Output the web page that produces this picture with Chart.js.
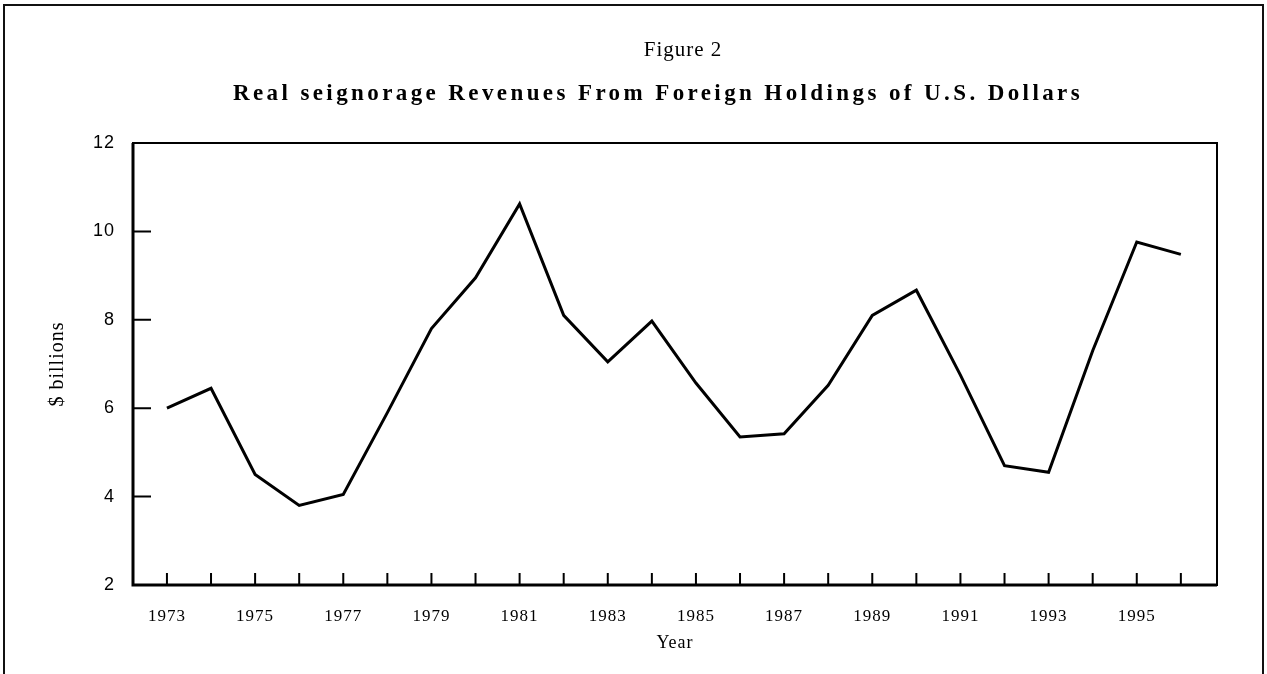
<!DOCTYPE html>
<html lang="en">
<head>
  <meta charset="UTF-8" />
  <title>Figure 2 | Real seignorage Revenues</title>
  <script src="https://cdn.jsdelivr.net/npm/chart.js"></script>
  <style>
    body { margin: 0; background: #fff; }
    .page { position: relative; width: 1267px; height: 674px; overflow: hidden; background: #fff; }
    .frame { position: absolute; left: 3px; top: 4px; width: 1257px; height: 720px; border: 2px solid #111; }
    #chart { position: absolute; left: 0; top: 0; }
    .fig-no, .fig-title { position: absolute; transform: translateX(-50%); white-space: nowrap; line-height: 1; color: #000; font-family: "Liberation Serif", "Times New Roman", serif; }
    .fig-no { left: 683px; top: 39px; font-size: 21px; letter-spacing: 1px; }
    .fig-title { left: 658px; top: 81px; font-size: 23px; font-weight: bold; letter-spacing: 3.4px; }
  </style>
</head>
<body>
<div class="page">
  <div class="frame"></div>
  <canvas id="chart" width="1267" height="674"></canvas>
  <div class="fig-no">Figure 2</div>
  <div class="fig-title">Real seignorage Revenues From Foreign Holdings of U.S. Dollars</div>
</div>

<script>
// Values ($ billions)
const years = [1973, 1974, 1975, 1976, 1977, 1978, 1979, 1980, 1981, 1982, 1983, 1984,
               1985, 1986, 1987, 1988, 1989, 1990, 1991, 1992, 1993, 1994, 1995, 1996];
const seignorage = [6.0, 6.45, 4.5, 3.8, 4.05, 5.9, 7.8, 8.95, 10.62, 8.1, 7.05, 7.97,
                    6.57, 5.35, 5.42, 6.52, 8.1, 8.67, 6.75, 4.7, 4.55, 7.3, 9.76, 9.48];
const yTicks = [2, 4, 6, 8, 10, 12];

// Box round the plot plus inward tick marks
const frameTicks = {
  id: 'frameTicks',
  beforeDraw(chart) {
    // the scanned figure sets its text a little loose
    chart.ctx.letterSpacing = '1px';
  },
  beforeDatasetsDraw(chart) {
    const { ctx, chartArea: a, scales: { x, y } } = chart;
    ctx.save();
    ctx.strokeStyle = '#000';
    ctx.lineWidth = 2;
    ctx.strokeRect(a.left, a.top, a.right - a.left, a.bottom - a.top);
    ctx.lineWidth = 3;
    ctx.beginPath();
    ctx.moveTo(a.left, a.top);
    ctx.lineTo(a.left, a.bottom);
    ctx.lineTo(a.right, a.bottom);
    ctx.stroke();

    ctx.lineWidth = 2;
    ctx.beginPath();
    years.forEach(yr => {
      const px = x.getPixelForValue(yr);
      ctx.moveTo(px, a.bottom);
      ctx.lineTo(px, a.bottom - 12);
    });
    yTicks.slice(1, -1).forEach(v => {
      const py = y.getPixelForValue(v);
      ctx.moveTo(a.left, py);
      ctx.lineTo(a.left + 18, py);
    });
    ctx.stroke();
    ctx.restore();
  }
};

new Chart(document.getElementById('chart').getContext('2d'), {
  type: 'line',
  data: {
    datasets: [{
      data: years.map((yr, i) => ({ x: yr, y: seignorage[i] })),
      borderColor: '#000',
      borderWidth: 3,
      pointRadius: 0,
      tension: 0,
      fill: false
    }]
  },
  options: {
    responsive: false,
    animation: false,
    layout: { padding: { top: 143, right: 50, left: 0, bottom: 0 } },
    plugins: { legend: { display: false }, tooltip: { enabled: false } },
    scales: {
      x: {
        type: 'linear',
        min: 1972.23,
        max: 1996.82,
        grid: { display: false, drawTicks: false },
        border: { display: false },
        ticks: {
          stepSize: 1,
          includeBounds: false,
          autoSkip: false,
          maxRotation: 0,
          padding: 21,
          color: '#000',
          font: { family: 'Liberation Serif', size: 17 },
          callback: v => (v % 2 === 1 && v <= 1995) ? String(v) : ''
        },
        title: {
          display: true,
          text: 'Year',
          color: '#000',
          font: { family: 'Liberation Serif', size: 18 },
          padding: { top: 0, bottom: 20 }
        },
        afterFit: s => { s.height = 89; }
      },
      y: {
        min: 2,
        max: 12,
        grid: { display: false, drawTicks: false },
        border: { display: false },
        ticks: {
          stepSize: 2,
          padding: 18,
          color: '#000',
          font: { family: 'Liberation Sans', size: 18 }
        },
        title: {
          display: true,
          text: '$ billions',
          color: '#000',
          font: { family: 'Liberation Serif', size: 20 },
          padding: { top: 46, bottom: 0 }
        },
        afterFit: s => { s.width = 133; }
      }
    }
  },
  plugins: [frameTicks]
});
</script>
</body>
</html>
